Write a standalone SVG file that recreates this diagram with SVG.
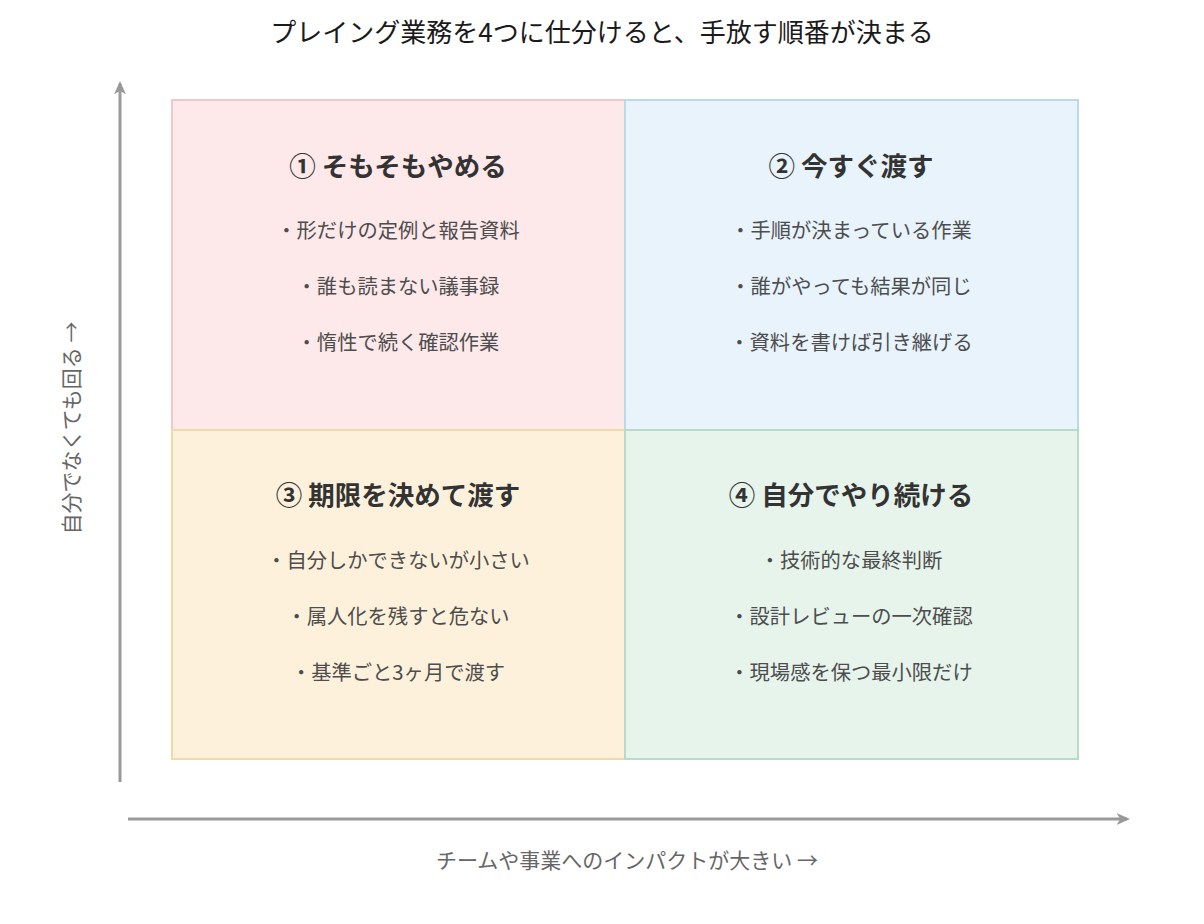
<svg xmlns="http://www.w3.org/2000/svg" width="1204" height="924" viewBox="0 0 1204 924">
<defs>
<style>
text{font-family:"Noto Sans CJK JP","Noto Sans",sans-serif;text-anchor:middle}
.title{font-size:26px;fill:#1a1a1a}
.head{font-size:26.5px;font-weight:bold;fill:#333}
.item{font-size:20.3px;fill:#4d4d4d}
.axl{font-size:21px;fill:#666}
.ax{stroke:#999;stroke-width:3;fill:none}
</style>
<marker id="ah" viewBox="0 0 10 10" refX="7" refY="5" markerWidth="5" markerHeight="5" orient="auto" markerUnits="strokeWidth">
<path d="M0,1 L9,5 L0,9 L2.5,5 Z" fill="#999"/>
</marker>
</defs>
<rect width="1204" height="924" fill="#fff"/>
<text class="title" x="602" y="42">プレイング業務を4つに仕分けると、手放す順番が決まる</text>
<g id="connectors">
<line class="ax" x1="120" y1="782" x2="120" y2="84" marker-end="url(#ah)"/>
<line class="ax" x1="128" y1="819" x2="1127" y2="819" marker-end="url(#ah)"/>
</g>
<g id="q1">
<rect x="172" y="100" width="453" height="330" fill="#fde8ea" stroke="#f0c8cc" stroke-width="2"/>
<text class="head" x="398" y="175.5">① そもそもやめる</text>
<text class="item" x="398" y="238">・形だけの定例と報告資料</text>
<text class="item" x="398" y="294">・誰も読まない議事録</text>
<text class="item" x="398" y="350">・惰性で続く確認作業</text>
</g>
<g id="q2">
<rect x="625" y="100" width="453" height="330" fill="#e8f3fc" stroke="#bbd9ec" stroke-width="2"/>
<text class="head" x="851" y="175.5">② 今すぐ渡す</text>
<text class="item" x="851" y="238">・手順が決まっている作業</text>
<text class="item" x="851" y="294">・誰がやっても結果が同じ</text>
<text class="item" x="851" y="350">・資料を書けば引き継げる</text>
</g>
<g id="q3">
<rect x="172" y="430" width="453" height="329" fill="#fdf1dc" stroke="#f0dba8" stroke-width="2"/>
<text class="head" x="398" y="504.5">③ 期限を決めて渡す</text>
<text class="item" x="398" y="568">・自分しかできないが小さい</text>
<text class="item" x="398" y="624">・属人化を残すと危ない</text>
<text class="item" x="398" y="680">・基準ごと3ヶ月で渡す</text>
</g>
<g id="q4">
<rect x="625" y="430" width="453" height="329" fill="#e6f4ec" stroke="#b5dccb" stroke-width="2"/>
<text class="head" x="851" y="504.5">④ 自分でやり続ける</text>
<text class="item" x="851" y="568">・技術的な最終判断</text>
<text class="item" x="851" y="624">・設計レビューの一次確認</text>
<text class="item" x="851" y="680">・現場感を保つ最小限だけ</text>
</g>
<text class="axl" x="627" y="868">チームや事業へのインパクトが大きい →</text>
<text class="axl" transform="translate(79,428) rotate(-90)" x="0" y="0">自分でなくても回る →</text>
</svg>
